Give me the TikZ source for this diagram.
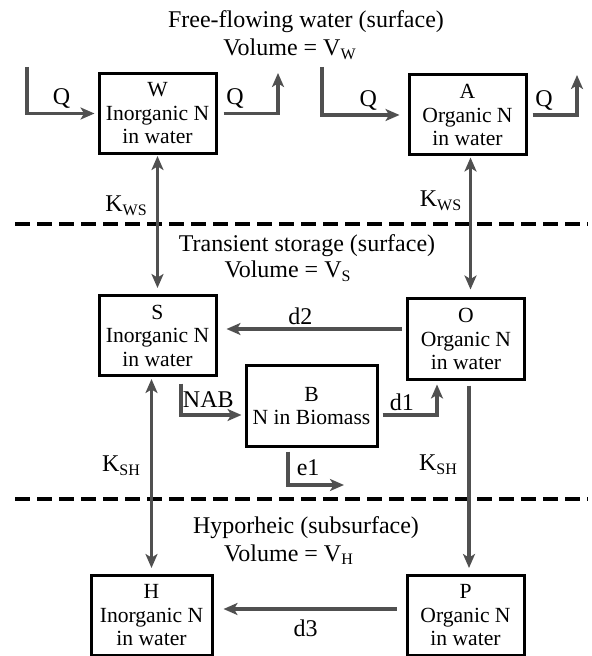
\documentclass[tikz,border=0pt]{standalone}
\usepackage{fontspec}
\setmainfont{Liberation Serif}
\usetikzlibrary{arrows.meta}
\definecolor{flowgray}{RGB}{80,80,80}

\tikzset{
  >={Stealth[length=7pt,width=6pt,inset=1.8pt]},
  pool/.style={draw,line width=1.5pt,align=center,inner sep=0pt,
    minimum width=58.5pt,minimum height=40pt,
    font=\fontsize{10.8}{11.75}\selectfont},
  flow/.style={draw=flowgray,line width=1.7pt},
  lbl/.style={font=\fontsize{12}{14}\selectfont,inner sep=1.5pt},
  zone/.style={font=\fontsize{12}{14}\selectfont,anchor=base,inner sep=0pt},
  divide/.style={line width=1.8pt,dash pattern=on 7.5pt off 3.5pt}
}

\begin{document}
\begin{tikzpicture}[x=0.5pt,y=-0.5pt]
  \useasboundingbox (0,0) rectangle (591,656);
  % layers
  \draw[divide](15,224)--(588,224);
  \draw[divide](15,499)--(588,499);
  \node[zone] (t1) at(306,28){Free-flowing water (surface)};
  \node[zone] (v1) at(290,56){Volume = V\textsubscript{W}};
  \node[zone] (t2) at(307,252){Transient storage (surface)};
  \node[zone] (v2) at(288,278){Volume = V\textsubscript{S}};
  \node[zone] (t3) at(306,533){Hyporheic (subsurface)};
  \node[zone] (v3) at(289,561){Volume = V\textsubscript{H}};
  % pools
  \node[pool] (W) at(157.5,113.5){W\\Inorganic N\\in water};
  \node[pool] (A) at(467.5,115){A\\Organic N\\in water};
  \node[pool] (S) at(157.5,335.5){S\\Inorganic N\\in water};
  \node[pool] (O) at(466,339){O\\Organic N\\in water};
  \node[pool,minimum width=65.5pt] (B) at(311.5,406){B\\N in Biomass};
  \node[pool,minimum width=60.5pt] (H) at(151.5,615.5){H\\Inorganic N\\in water};
  \node[pool] (P) at(465.5,615.5){P\\Organic N\\in water};
  % free ends of the flows
  \coordinate (qinW) at(27,67);
  \coordinate (qoutW) at(278,73);
  \coordinate (qinA) at(322,67);
  \coordinate (qoutA) at(577,75);
  \coordinate (e1end) at(344,485);
  % stream flow
  \draw[flow,->,shorten >=1.5pt](qinW)|-(W.west) node[lbl,pos=0.745,above](q1){Q};
  \draw[flow,->,shorten <=3pt](W.east)-|(qoutW) node[lbl,pos=0.145,above](q2){Q};
  \draw[flow,->,shorten >=4pt](qinA)|-(A.west) node[lbl,pos=0.77,above](q3){Q};
  \draw[flow,->,shorten <=2.5pt](A.east)-|(qoutA) node[lbl,pos=0.167,above](q4){Q};
  % exchange between layers
  \draw[flow,<->,shorten <=0.5pt,shorten >=3pt](W.south)--(W.south|-S.north);
  \draw[flow,<->,shorten <=0.5pt,shorten >=4pt]([xshift=1.5pt]A.south)--([xshift=1.5pt]A.south|-O.north);
  \draw[flow,<->,shorten <=1pt,shorten >=3pt](S.south-|H.north)--(H.north);
  \draw[flow,->,shorten <=2.5pt,shorten >=3pt]([xshift=1.5pt]O.south)--([xshift=1.5pt]O.south|-P.north);
  \node[lbl] (kws1) at(126.5,206){K\textsubscript{WS}};
  \node[lbl] (kws2) at(441,201){K\textsubscript{WS}};
  \node[lbl] (ksh1) at(121.5,466){K\textsubscript{SH}};
  \node[lbl] (ksh2) at(438.5,465){K\textsubscript{SH}};
  % transformations
  \draw[flow,->,shorten <=2pt,shorten >=4.5pt]([yshift=5pt]O.west)--([yshift=5pt]O.west-|S.east)
    node[lbl,pos=0.56,above](d2){d2};
  \draw[flow,->,shorten <=3.25pt,shorten >=1.5pt]([xshift=11.75pt]S.south)|-([yshift=-4.5pt]B.west)
    node[lbl,pos=0.715,above=1.5pt](nab){NAB};
  \draw[flow,->,shorten <=2pt,shorten >=2pt]([yshift=-4.5pt]B.east)-|([xshift=-14.5pt]O.south)
    node[lbl,pos=0.2,above](d1){d1};
  \draw[flow,->,shorten <=2pt]([xshift=-11.75pt]B.south)|-(e1end)
    node[lbl,pos=0.68,above=2.5pt](e1){e1};
  \draw[flow,->,shorten <=4.5pt,shorten >=5pt]([yshift=3.25pt]P.west)--([yshift=3.25pt]P.west-|H.east)
    node[lbl,pos=0.52,below=3pt](d3){d3};
\end{tikzpicture}
\end{document}
